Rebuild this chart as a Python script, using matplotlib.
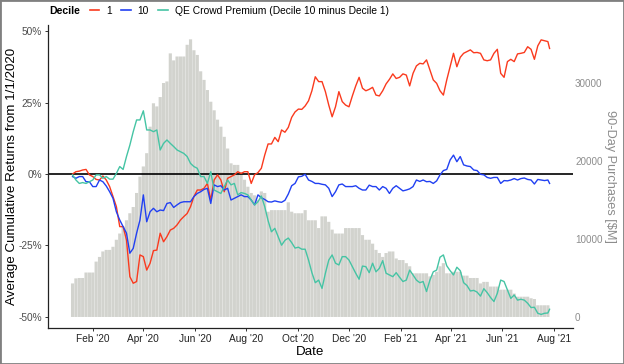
import numpy as np
import pandas as pd
import matplotlib
matplotlib.use('Agg')
import matplotlib.pyplot as plt
import matplotlib.dates as mdates
from matplotlib.lines import Line2D
from matplotlib.patches import Rectangle

plt.rcParams['font.family'] = ['Liberation Sans', 'DejaVu Sans']

# ---------------- data ----------------
grid_dates = pd.date_range('2020-01-08', '2021-07-25', freq='4D')
line_dates = grid_dates.append(pd.DatetimeIndex(['2021-07-27']))
bar_dates = grid_dates

decile1 = [
    0.0, 0.8, 1.0, 1.4, 1.6, -0.3, -0.9, -1.9, -2.1, -0.7, -2.1, -4.4, -7.9, -11.4, -18.4, -18.4,
    -23.1, -35.9, -38.2, -37.6, -28.3, -28.9, -33.6, -31.2, -26.8, -26.6,
    -20.7, -23.7, -21.9, -19.6, -19.0, -17.8, -16.1, -14.9, -13.8, -11.4, -7.9, -5.6, -5.6, -5.0,
    -3.3, -9.1, -2.1, -0.3, -2.1, -6.2, -1.5, -0.9, -0.3, 0.8, 0.2, 0.8, 0.8, -3.3, -0.3,
    0.5, 2.0, 6.6, 10.5, 10.5, 12.8, 11.3, 15.4, 14.6, 16.3, 19.8, 21.7, 22.7, 22.6, 23.8, 25.6,
    29.1, 34.0, 32.3, 32.3, 28.8, 24.1, 20.0, 23.5, 28.8, 25.3, 24.1, 23.5,
    27.3, 30.8, 33.8, 30.0, 29.1, 29.6, 30.3, 27.6, 27.3, 29.1, 31.5, 33.1, 35.0, 33.4, 33.8, 35.0,
    34.6, 30.8, 35.2, 37.8, 38.7, 38.5, 39.9, 36.4, 32.9, 31.7, 29.1, 27.6,
    32.9, 37.5, 42.2, 37.5, 40.8, 42.2, 42.8, 43.4, 42.4, 42.5, 42.2, 39.9, 39.6, 39.9, 42.2, 43.6,
    35.2, 33.8, 39.3, 40.1, 39.3, 42.0, 42.2, 42.5, 44.5, 43.6, 40.1, 44.8, 46.9, 46.6, 46.3, 43.9,
]

decile10 = [
    -0.9, -1.5, -0.9, -0.9, -2.7, -2.7, -4.4, -4.4, -2.1, -2.7, -4.2, -6.2, -8.5, -13.2, -16.1, -18.4,
    -20.7, -27.7, -26.0, -20.7, -16.1, -7.3, -16.7, -13.2, -12.0, -13.2,
    -12.6, -12.8, -10.3, -10.0, -11.7, -10.8, -10.0, -9.7, -9.7, -9.7, -7.9, -6.8, -6.2, -5.4,
    -5.0, -10.3, -3.8, -4.4, -4.1, -5.6, -5.0, -9.1, -8.5, -7.9, -7.3, -7.9, -7.9, -9.1, -10.8,
    -7.3, -8.3, -8.9, -9.7, -9.8, -9.4, -9.7, -9.9, -9.2, -7.0, -4.1, -3.3, -1.0, -0.8, -0.1, -2.1,
    -2.6, -3.3, -3.3, -3.6, -3.8, -5.0, -7.9, -6.2, -3.8, -3.5, -4.4, -4.4,
    -4.4, -4.1, -5.0, -5.6, -5.6, -3.9, -4.4, -4.4, -5.6, -4.4, -5.0, -6.8, -5.0, -4.1, -5.0, -5.9,
    -5.6, -5.2, -4.4, -2.1, -2.6, -2.1, -2.7, -2.6, -3.3, -2.4, -0.3, 1.2,
    1.6, 4.9, 6.6, 4.3, 6.1, 3.2, 2.8, 2.6, 1.4, 1.2, -0.1, -0.3, -1.2, -1.5, -1.2, -1.2,
    -3.3, -2.3, -2.4, -2.1, -1.6, -2.1, -1.6, -1.4, -1.9, -2.1, -3.5, -1.9, -2.1, -2.3, -2.1, -3.3,
]

premium = [
    -0.3, -2.1, -3.3, -3.0, -3.3, -2.7, -2.1, -0.3, -0.3, -1.5, -0.9, -1.8, -1.8, 0.2, 2.6, 1.6,
    6.1, 10.1, 14.8, 18.9, 18.9, 22.1, 15.4, 15.4, 14.8, 15.4,
    8.4, 10.7, 11.9, 10.7, 9.6, 8.4, 7.8, 7.2, 6.1, 3.7, 2.6, 2.0, -0.9, -0.9,
    -3.3, 0.8, -5.6, -6.2, -6.8, -4.4, -2.1, -3.8, -3.3, -7.3, -6.5, -6.8, -7.3, -9.1, -10.8,
    -9.7, -7.7, -11.4, -16.3, -20.2, -19.0, -21.9, -24.9, -23.2, -22.4, -24.0, -25.9, -25.6, -26.3, -26.3, -30.1,
    -34.5, -38.0, -37.1, -40.0, -34.7, -30.1, -28.3, -31.2, -31.8, -28.9, -28.9, -30.1,
    -32.4, -34.7, -36.8, -32.2, -32.4, -34.5, -31.2, -34.2, -33.0, -30.3, -34.7, -35.3, -35.9, -34.5, -36.1, -37.6,
    -37.1, -33.6, -35.3, -37.1, -38.0, -37.6, -41.1, -37.1, -34.2, -33.6, -29.1, -28.3,
    -32.1, -33.8, -35.3, -32.6, -33.8, -38.0, -39.0, -40.9, -40.7, -41.3, -42.7, -40.1, -41.5, -43.2, -44.6, -41.7,
    -37.1, -37.6, -40.6, -43.5, -42.3, -44.1, -43.8, -44.1, -45.2, -46.7, -46.6, -48.7, -49.1, -48.7, -48.6, -47.3,
]

purchases = [
    4300, 4950, 5000, 5000, 5700, 5700, 5700, 7100, 7700, 8400, 8600, 8600, 9000, 9900, 10700, 11600,
    12400, 13300, 14100, 15900, 18000, 19300, 21000, 24400, 27400, 27000,
    28200, 30000, 30200, 33800, 32900, 33400, 33400, 33400, 34900, 35600, 34200, 33600, 31500, 30400,
    29100, 27600, 26500, 25300, 24400, 23100, 21600, 19700, 19500, 19500, 18600, 17600, 16700, 15900, 15600,
    15000, 16100, 15900, 13500, 13700, 13700, 13700, 13700, 13700, 14700, 13500, 13300, 13300, 13300, 13700, 12400,
    12400, 12400, 11400, 12900, 12900, 12200, 11200, 10700, 10700, 10700, 11400, 11400,
    11400, 11400, 11400, 10500, 9900, 9900, 9400, 8600, 8200, 7700, 8200, 8400, 8400, 7500, 7300, 7300,
    6900, 6500, 5600, 5600, 5600, 5600, 5600, 5200, 5400, 5800, 6500, 6900,
    5600, 5600, 5800, 5800, 5800, 5300, 5300, 5000, 5000, 5000, 4300, 4500, 4500, 3900, 3900, 3900,
    3500, 3500, 3500, 3500, 3000, 2600, 2600, 2600, 2600, 2400, 2300, 1500, 1500, 1500, 1500,
]

series_labels = ['1', '10', 'QE Crowd Premium (Decile 10 minus Decile 1)']
series_colors = ['#FA3A1E', '#2140F2', '#45C4A4']

ret_ticks = [-50, -25, 0, 25, 50]
ret_tick_labels = ['-50%', '-25%', '0%', '25%', '50%']
pur_ticks = [0, 10000, 20000, 30000]
pur_tick_labels = ['0', '10000', '20000', '30000']
month_ticks = pd.date_range('2020-02-01', '2021-08-01', freq='2MS')
month_labels = [d.strftime("%b '%y") for d in month_ticks]

# secondary-axis relation: purchases = offset + scale * return(%)
sec_offset, sec_scale = 18333.0, 366.7
ret_lim = (-53.85, 52.1)
x_lim = (pd.Timestamp('2019-12-09 21:00'), pd.Timestamp('2021-08-23 19:00'))

# ---------------- figure ----------------
W, H = 624, 364
fig = plt.figure(figsize=(W / 100, H / 100), dpi=100)
ax = fig.add_axes([48 / W, 36 / H, 525 / W, 303 / H])
ax2 = ax.twinx()
ax.set_zorder(ax2.get_zorder() + 1)
ax.patch.set_visible(False)

bars = ax2.bar(bar_dates, purchases, width=3.75, color='#d2d3ce', edgecolor='none',
               linewidth=0, zorder=1)
for b in bars:
    b.set_snap(False)
ax2.set_ylim(sec_offset + sec_scale * ret_lim[0], sec_offset + sec_scale * ret_lim[1])

ax.axhline(0, color='black', linewidth=1.2, zorder=2)
for vals, col, lab in zip([decile1, decile10, premium], series_colors, series_labels):
    ax.plot(line_dates, vals, color=col, linewidth=1.0, label=lab, zorder=3)

ax.set_xlim(x_lim)
ax.set_ylim(ret_lim)
ax.set_yticks(ret_ticks)
ax.set_yticklabels(ret_tick_labels)
ax.set_xticks(month_ticks)
ax.set_xticklabels(month_labels)

for s in ['top', 'right']:
    ax.spines[s].set_visible(False)
for s in ['left', 'bottom']:
    ax.spines[s].set_color('#222222')
    ax.spines[s].set_linewidth(0.9)
for s in ax2.spines.values():
    s.set_visible(False)

ax.tick_params(axis='y', labelsize=7.3, labelcolor='#4d4d4d', color='#333333', length=2.5, width=0.7, pad=1.8)
ax.tick_params(axis='x', labelsize=7.3, labelcolor='#222222', color='#333333', length=2.5, width=0.7, pad=2.0)

ax2.set_yticks(pur_ticks)
ax2.set_yticklabels(pur_tick_labels)
ax2.tick_params(axis='y', labelsize=7.1, labelcolor='#8c8c8c', length=0, pad=1.5)

ax.set_ylabel('Average Cumulative Returns from 1/1/2020', fontsize=9.6, color='black')
ax.yaxis.label.set_va('center')
ax.yaxis.set_label_coords((12 - 48) / 525, 0.5)
ax.set_xlabel('Date', fontsize=9.6, color='black')
ax.xaxis.label.set_va('center')
ax.xaxis.set_label_coords(0.5, (328 - 352) / 303)
ax2.set_ylabel(r'90-Day Purchases [\$M]', fontsize=9.2, color='#8c8c8c', rotation=270)
ax2.yaxis.label.set_va('center')
ax2.yaxis.label.set_ha('center')
ax2.yaxis.set_label_coords((610 - 48) / 525, 0.5)

handles = [Line2D([0], [0], color=c, linewidth=1.2) for c in series_colors]
fig.legend(handles, series_labels, ncol=3, loc='center left',
           bbox_to_anchor=(90 / W, 1 - 11 / H), frameon=False, fontsize=7.4,
           handlelength=0.9, handletextpad=0.7, columnspacing=0.9,
           borderpad=0, borderaxespad=0)
fig.text(49 / W, 1 - 11 / H, 'Decile', fontsize=7.6, fontweight='bold', va='center', ha='left')

fig.patches.append(Rectangle((0, 0), 1, 1, transform=fig.transFigure, fill=False,
                             edgecolor='#808080', linewidth=2.0))

fig.savefig('out.png', dpi=100)
